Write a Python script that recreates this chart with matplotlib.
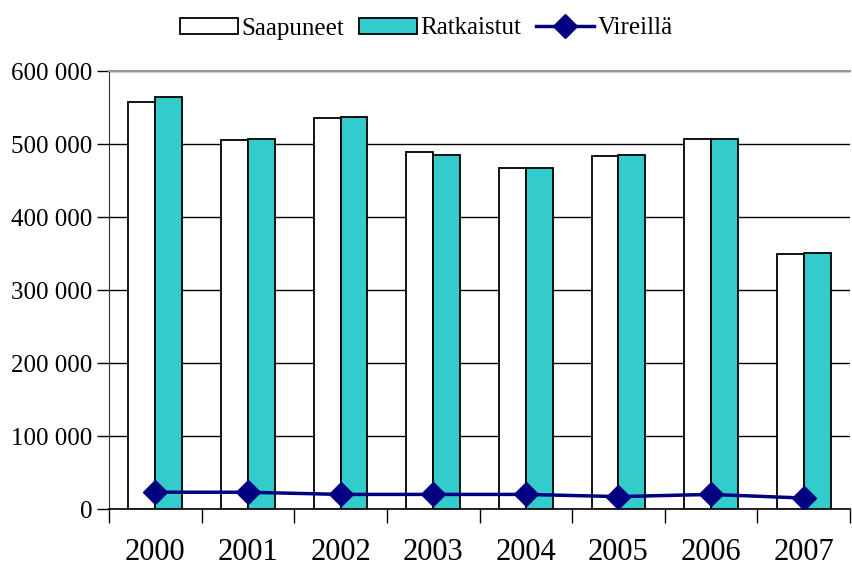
import numpy as np
import matplotlib.pyplot as plt
from matplotlib.ticker import FuncFormatter, FixedLocator

# Data
years = ['2000', '2001', '2002', '2003', '2004', '2005', '2006', '2007']
saapuneet = [557000, 505000, 535000, 489000, 467000, 483000, 507000, 349000]
ratkaistut = [565000, 507000, 537000, 485000, 467000, 485000, 507000, 351000]
vireilla = [23000, 23000, 20000, 20000, 20000, 17000, 20000, 15000]

plt.rcParams['font.family'] = ['Liberation Serif', 'DejaVu Serif']

fig = plt.figure(figsize=(8.53, 5.70), dpi=100)
ax = fig.add_axes([0.1278, 0.107, 0.8687, 0.7684])

x = np.arange(len(years))
w = 0.29
b1 = ax.bar(x - w / 2, saapuneet, w, color='white', edgecolor='black', linewidth=1.3,
            label='Saapuneet', zorder=3)
b2 = ax.bar(x + w / 2, ratkaistut, w, color='#33CCCC', edgecolor='black', linewidth=1.3,
            label='Ratkaistut', zorder=3)
l1, = ax.plot(x, vireilla, color='#000080', linewidth=2.5, marker='D', markersize=12,
              label='Vireillä', zorder=4)

ax.set_xlim(-0.5, len(years) - 0.5)
ax.set_ylim(0, 600000)
ax.set_yticks(np.arange(0, 600001, 100000))
ax.yaxis.set_major_formatter(FuncFormatter(lambda v, p: '{:,}'.format(int(v)).replace(',', ' ')))
ax.grid(axis='y', color='black', linewidth=1.0, zorder=0)

ax.set_xticks(x)
ax.set_xticklabels(years, fontsize=22)
ax.xaxis.set_minor_locator(FixedLocator(np.arange(-0.5, len(years), 1.0)))
ax.tick_params(axis='x', which='major', length=0, pad=21)
ax.tick_params(axis='x', which='minor', length=10, width=1, color='black')
ax.tick_params(axis='y', labelsize=18, length=9, width=1, pad=3)

ax.spines['right'].set_visible(False)
ax.spines['top'].set_color('#999999')
ax.spines['top'].set_linewidth(1.5)
ax.spines['left'].set_color('#333333')
ax.spines['bottom'].set_linewidth(1.2)

fig.legend([b1, b2, l1], ['Saapuneet', 'Ratkaistut', 'Vireillä'],
           loc='upper center', bbox_to_anchor=(0.5, 1.0), ncol=3, frameon=False,
           fontsize=18, handlelength=2.3, handleheight=0.6, handletextpad=0.15,
           columnspacing=0.6, borderaxespad=0.3)

fig.savefig('out.png', dpi=100)
